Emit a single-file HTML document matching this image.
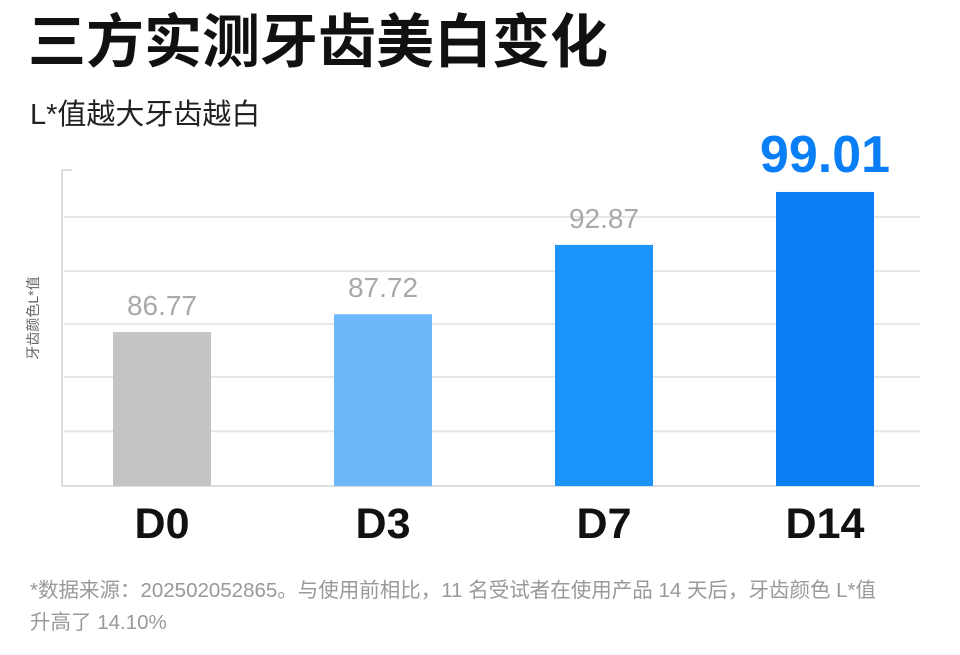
<!DOCTYPE html>
<html><head><meta charset="utf-8">
<style>
body{margin:0;width:960px;height:650px;background:#fff;overflow:hidden;font-family:"Liberation Sans","Noto Sans CJK SC",sans-serif}
</style></head>
<body>
<svg width="960" height="650" xmlns="http://www.w3.org/2000/svg" style="font-family:'Liberation Sans','Noto Sans CJK SC',sans-serif">
<text x="28" y="62" font-size="58" font-weight="bold" fill="#111">三方实测牙齿美白变化</text>
<text x="30" y="124" font-size="29" fill="#222">L*值越大牙齿越白</text>
<g id="grid"></g>
<line x1="62" y1="170" x2="62" y2="486" stroke="#ddd" stroke-width="2"/>
<line x1="62" y1="170" x2="72" y2="170" stroke="#ddd" stroke-width="2"/>
<line x1="62" y1="486" x2="920" y2="486" stroke="#ddd" stroke-width="2"/>
<text transform="translate(38,318) rotate(-90)" font-size="14" fill="#666" text-anchor="middle">牙齿颜色L*值</text>
<g id="bars"></g>
<text x="30" y="597" font-size="20.5" fill="#999">*数据来源：202502052865。与使用前相比，11 名受试者在使用产品 14 天后，牙齿颜色 L*值</text>
<text x="30" y="629" font-size="20.5" fill="#999">升高了 14.10%</text>
</svg>
<script>
const categories = ["D0","D3","D7","D14"];
const values = [86.77, 87.72, 92.87, 99.01];
const valueLabels = ["86.77","87.72","92.87","99.01"];
const colors = ["#c4c4c4","#6cb8fb","#1a94f8","#0a7ef5"];
const gridValues = [83.26, 84.86, 87.18, 90.61, 95.8];
const NS="http://www.w3.org/2000/svg";
const baseY=486;
function y(v){return baseY-(154+135.7*(Math.log(v-80)-1.913));}
function xCenter(i){return 162+i*221;}
const grid=document.getElementById('grid');
gridValues.forEach(g=>{
  const l=document.createElementNS(NS,'line');
  l.setAttribute('x1',64);l.setAttribute('x2',920);
  l.setAttribute('y1',y(g));l.setAttribute('y2',y(g));
  l.setAttribute('stroke','#e6e6e6');l.setAttribute('stroke-width','2');
  
  
  grid.appendChild(l);
});
const bars=document.getElementById('bars');
categories.forEach((c,i)=>{
  const r=document.createElementNS(NS,'rect');
  const top=y(values[i]);
  r.setAttribute('x',xCenter(i)-49);r.setAttribute('width',98);
  r.setAttribute('y',top);r.setAttribute('height',baseY-top);
  r.setAttribute('fill',colors[i]);
  
  
  bars.appendChild(r);
  const t=document.createElementNS(NS,'text');
  const last=i===categories.length-1;
  t.setAttribute('x',xCenter(i));t.setAttribute('y',top-(last?20:17));
  t.setAttribute('text-anchor','middle');
  t.setAttribute('font-size',last?52:28);
  if(last)t.setAttribute('font-weight','bold');
  t.setAttribute('fill',last?'#0a7ef5':'#a9a9a9');
  t.textContent=valueLabels[i];
  
  
  bars.appendChild(t);
  const xl=document.createElementNS(NS,'text');
  xl.setAttribute('x',xCenter(i));xl.setAttribute('y',538);
  xl.setAttribute('text-anchor','middle');xl.setAttribute('font-size',43);
  xl.setAttribute('font-weight','bold');xl.setAttribute('fill','#111');
  xl.textContent=c;
  
  
  bars.appendChild(xl);
});
</script>
</body></html>
